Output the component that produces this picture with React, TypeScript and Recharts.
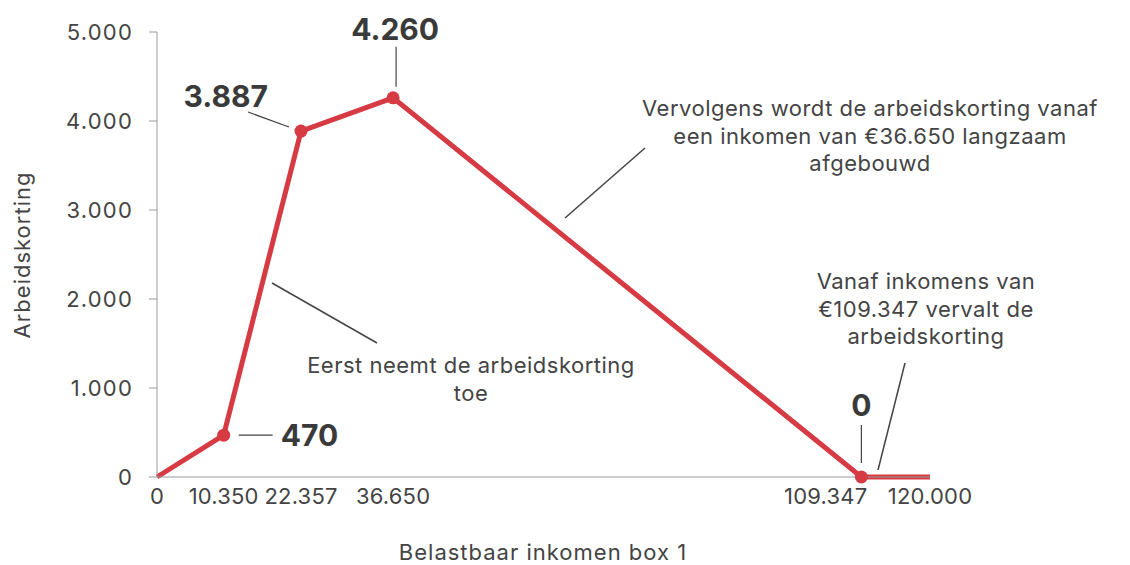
import { Line, LineChart, XAxis, YAxis } from "recharts";

const incomes = [0, 10350, 22357, 36650, 109347, 120000];
const korting = [0, 470, 3887, 4260, 0, 0];
const xTicks = [0, 10350, 22357, 36650, 109347, 120000];
const yTicks = [0, 1000, 2000, 3000, 4000, 5000];
const pointLabels = ["", "470", "3.887", "4.260", "0", ""];

const data = incomes.map((inkomen, i) => ({ inkomen, korting: korting[i] }));

const RED = "#d63a43";
const TEXT = "#444444";
const FONT = "Inter, 'Noto Sans', sans-serif";

const fmt = (n: number) => String(n).replace(/\B(?=(\d{3})+(?!\d))/g, ".");

// leader line + label placement per point, relative to the point
const labelStyle: Record<number, { l: number[]; tx: number; ty: number; anchor: "start" | "middle" | "end" }> = {
  1: { l: [15, 0, 49, 0], tx: 57, ty: 0, anchor: "start" },
  2: { l: [-53, -19, -12, -4], tx: -33, ty: -35, anchor: "end" },
  3: { l: [3, -51, 3, -11], tx: 2, ty: -69, anchor: "middle" },
  4: { l: [0, -52, 0, -14], tx: 0, ty: -72, anchor: "middle" },
};

function PointDot(props: any) {
  const { cx, cy, index } = props;
  if (!pointLabels[index]) return <g key={`d${index}`} />;
  return <circle key={`d${index}`} cx={cx} cy={cy} r={6.5} fill={RED} />;
}

function PointLabel(props: any) {
  const { x, y, index } = props;
  const s = labelStyle[index];
  if (!s) return <g key={`l${index}`} />;
  return (
    <g key={`l${index}`}>
      <line x1={x + s.l[0]} y1={y + s.l[1]} x2={x + s.l[2]} y2={y + s.l[3]} stroke={TEXT} strokeWidth={1.2} />
      <text
        x={x + s.tx}
        y={y + s.ty}
        textAnchor={s.anchor}
        dominantBaseline="central"
        fontSize={30}
        fontWeight={700}
        fill="#3a3a3a"
        fontFamily={FONT}
      >
        {pointLabels[index]}
      </text>
    </g>
  );
}

// x tick: the 109.347 label is pushed left so it does not run into 120.000
function XTick(props: any) {
  const { x, y, payload } = props;
  const crowded = payload.value === 109347;
  return (
    <text
      x={crowded ? x + 6 : x}
      y={y + 8}
      textAnchor={crowded ? "end" : "middle"}
      dominantBaseline="hanging"
      fill={TEXT}
      fontSize={22}
      letterSpacing={0.2}
      fontFamily={FONT}
    >
      {fmt(payload.value)}
    </text>
  );
}

const notes = [
  { lines: ["Vervolgens wordt de arbeidskorting vanaf", "een inkomen van €36.650 langzaam", "afgebouwd"], x: 870, y: 108 },
  { lines: ["Vanaf inkomens van", "€109.347 vervalt de", "arbeidskorting"], x: 926, y: 281 },
  { lines: ["Eerst neemt de arbeidskorting", "toe"], x: 471, y: 365 },
];
const leaders = [
  [272, 283, 377, 343],
  [565, 218, 645, 148],
  [878, 470, 905, 363],
];

export default function App() {
  return (
    <div style={{ position: "relative", width: 1130, height: 565, background: "#fff" }}>
      <style>{"body{margin:0}"}</style>
      <LineChart width={1130} height={565} data={data} margin={{ top: 32, right: 200, left: 0, bottom: 58 }}>
        <XAxis
          dataKey="inkomen"
          type="number"
          domain={[0, 120000]}
          ticks={xTicks}
          interval={0}
          height={30}
          tickLine={false}
          tickSize={0}
          stroke="#9a9a9a"
          tick={XTick}
        />
        <YAxis
          type="number"
          domain={[0, 5000]}
          ticks={yTicks}
          tickFormatter={fmt}
          width={157}
          tickSize={8}
          tickMargin={16}
          stroke="#9a9a9a"
          tick={{ fill: TEXT, fontSize: 22, fontFamily: FONT, letterSpacing: 1.2 }}
        />
        <Line
          type="linear"
          dataKey="korting"
          stroke={RED}
          strokeWidth={5}
          dot={PointDot}
          activeDot={false}
          label={PointLabel}
          isAnimationActive={false}
        />
      </LineChart>
      <svg width={1130} height={565} style={{ position: "absolute", left: 0, top: 0, pointerEvents: "none" }}>
        <g fontFamily={FONT} fill={TEXT}>
          {notes.map((n, i) => (
            <text key={i} x={n.x} y={n.y} textAnchor="middle" dominantBaseline="central" fontSize={22} letterSpacing={0.5}>
              {n.lines.map((t, j) => (
                <tspan key={j} x={n.x} dy={j === 0 ? 0 : 27.5}>
                  {t}
                </tspan>
              ))}
            </text>
          ))}
          <text x={543} y={552} textAnchor="middle" dominantBaseline="central" fontSize={22} letterSpacing={1}>
            Belastbaar inkomen box 1
          </text>
          <text
            x={22}
            y={255}
            textAnchor="middle"
            dominantBaseline="central"
            fontSize={22}
            letterSpacing={1}
            transform="rotate(-90 22 255)"
          >
            Arbeidskorting
          </text>
        </g>
        {leaders.map((l, i) => (
          <line key={i} x1={l[0]} y1={l[1]} x2={l[2]} y2={l[3]} stroke={TEXT} strokeWidth={1.5} />
        ))}
      </svg>
    </div>
  );
}
